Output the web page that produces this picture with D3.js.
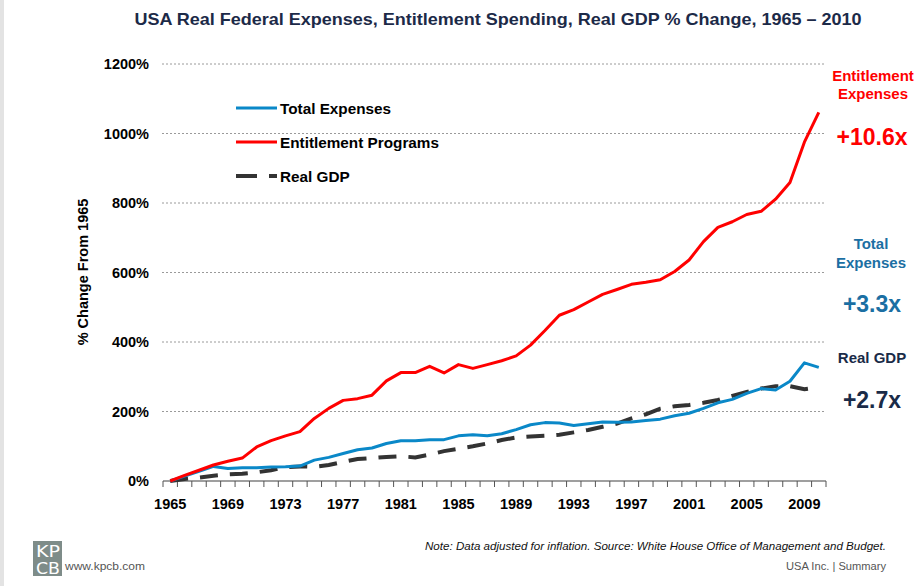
<!DOCTYPE html>
<html>
<head>
<meta charset="utf-8">
<script src="https://cdn.jsdelivr.net/npm/d3@7"></script>
<style>
  html, body { margin: 0; padding: 0; background: #fff; }
  svg { display: block; font-family: "Liberation Sans", Arial, sans-serif; }
</style>
</head>
<body>
<svg id="chart" width="917" height="586"></svg>
<script>
// ---- data ----
const years = d3.range(1965, 2011);
const totalExpenses = [0, 14, 28, 42, 36, 38, 38, 40, 41, 43, 60, 68, 79, 90, 95, 108, 116, 116, 119, 119,
  130, 133, 130, 136, 148, 162, 168, 167, 160, 165, 170, 169, 170, 174, 178, 188, 195, 209, 225, 235,
  252, 266, 262, 287, 340, 327];
const entitlementPrograms = [0, 16, 31, 46, 57, 66, 98, 116, 130, 142, 180, 209, 232, 237, 247, 288, 312, 312, 330, 311,
  335, 324, 335, 346, 360, 391, 433, 477, 493, 515, 537, 551, 566, 572, 579, 603, 636, 689, 730, 746,
  767, 776, 811, 859, 975, 1061];
const realGDP = [0, 6, 10, 15, 19, 21, 25, 31, 40, 42, 41, 46, 55, 63, 66, 69, 71, 68, 76, 86,
  93, 100, 108, 118, 125, 128, 130, 133, 140, 147, 156, 165, 180, 192, 208, 215, 219, 225, 233, 245,
  256, 266, 273, 273, 264, 270];
const yTicks = [0, 200, 400, 600, 800, 1000, 1200];
const xTickLabels = [1965, 1969, 1973, 1977, 1981, 1985, 1989, 1993, 1997, 2001, 2005, 2009];
const seriesNames = ["Total Expenses", "Entitlement Programs", "Real GDP"];

const svg = d3.select("#chart");

// left gray strip
svg.append("rect").attr("x", 0).attr("y", 0).attr("width", 4).attr("height", 586).attr("fill", "#e3e3e3");

const x = d3.scaleBand().domain(years).range([163, 826]).padding(0);
const xc = yr => x(yr) + x.bandwidth() / 2;
const y = d3.scaleLinear().domain([0, 1200]).range([481, 64]);

// title
svg.append("text").attr("x", 498).attr("y", 25).attr("text-anchor", "middle")
  .attr("font-size", 16.5).attr("font-weight", "bold").attr("fill", "#1c2a48")
  .attr("textLength", 727).attr("lengthAdjust", "spacingAndGlyphs")
  .text("USA Real Federal Expenses, Entitlement Spending, Real GDP % Change, 1965 \u2013 2010");

// gridlines
svg.append("g").selectAll("line").data(yTicks.filter(d => d > 0)).join("line")
  .attr("x1", 162).attr("x2", 826).attr("y1", d => y(d)).attr("y2", d => y(d))
  .attr("stroke", "#9a9a9a").attr("stroke-width", 1).attr("stroke-dasharray", "2,2");

// y axis labels
const yAxis = d3.axisLeft(y).tickValues(yTicks).tickSize(0).tickPadding(0).tickFormat(d => d + "%");
const gy = svg.append("g").attr("transform", "translate(149,0)").call(yAxis);
gy.select(".domain").remove();
gy.selectAll("text").attr("font-size", 14.5).attr("font-weight", "bold").attr("fill", "#000")
  .attr("font-family", "Liberation Sans, Arial, sans-serif");

// y axis title
svg.append("text").attr("transform", "translate(88,272) rotate(-90)").attr("text-anchor", "middle")
  .attr("font-size", 14.5).attr("font-weight", "bold").attr("fill", "#000")
  .text("% Change From 1965");

// x axis: baseline + ticks at band boundaries
const xAxisG = svg.append("g");
xAxisG.append("line").attr("x1", 163).attr("x2", 826).attr("y1", y(0)).attr("y2", y(0))
  .attr("stroke", "#7f7f7f").attr("stroke-width", 1.5);
const boundaries = years.map(d => x(d)).concat([x(2010) + x.bandwidth()]);
xAxisG.selectAll("line.tick").data(boundaries).join("line").attr("class", "tick")
  .attr("x1", d => d).attr("x2", d => d).attr("y1", y(0)).attr("y2", y(0) + 6)
  .attr("stroke", "#555").attr("stroke-width", 1);
xAxisG.selectAll("text").data(xTickLabels).join("text")
  .attr("x", d => xc(d)).attr("y", 509).attr("text-anchor", "middle")
  .attr("font-size", 14.5).attr("font-weight", "bold").attr("fill", "#000").text(d => d);

// lines
const line = d3.line().x((d, i) => xc(years[i])).y(d => y(d));
svg.append("path").datum(realGDP).attr("d", line).attr("fill", "none")
  .attr("stroke", "#333333").attr("stroke-width", 4).attr("stroke-dasharray", "18,12");
svg.append("path").datum(totalExpenses).attr("d", line).attr("fill", "none")
  .attr("stroke", "#0a88c8").attr("stroke-width", 3).attr("stroke-linejoin", "round");
svg.append("path").datum(entitlementPrograms).attr("d", line).attr("fill", "none")
  .attr("stroke", "#ff0000").attr("stroke-width", 3).attr("stroke-linejoin", "round");

// legend
const legend = svg.append("g");
const legendItems = [
  { name: seriesNames[0], color: "#0a88c8", dash: null, w: 3, yy: 108 },
  { name: seriesNames[1], color: "#ff0000", dash: null, w: 3, yy: 142 },
  { name: seriesNames[2], color: "#333333", dash: "21,12", w: 4, yy: 176 }
];
legendItems.forEach(it => {
  legend.append("line").attr("x1", 236).attr("x2", 277).attr("y1", it.yy).attr("y2", it.yy)
    .attr("stroke", it.color).attr("stroke-width", it.w).attr("stroke-dasharray", it.dash);
  legend.append("text").attr("x", 280).attr("y", it.yy + 5.5).attr("font-size", 15.3)
    .attr("font-weight", "bold").attr("fill", "#000").text(it.name);
});

// right annotations
const ann = svg.append("g").attr("text-anchor", "middle").attr("font-weight", "bold");
ann.append("text").attr("x", 873).attr("y", 81).attr("font-size", 15).attr("fill", "#ff0000").text("Entitlement");
ann.append("text").attr("x", 873).attr("y", 99).attr("font-size", 15).attr("fill", "#ff0000").text("Expenses");
ann.append("text").attr("x", 872).attr("y", 145).attr("font-size", 23).attr("fill", "#ff0000").text("+10.6x");
ann.append("text").attr("x", 871).attr("y", 249).attr("font-size", 15).attr("fill", "#1b6fa3").text("Total");
ann.append("text").attr("x", 871).attr("y", 268).attr("font-size", 15).attr("fill", "#1b6fa3").text("Expenses");
ann.append("text").attr("x", 872).attr("y", 312).attr("font-size", 23).attr("fill", "#1b6fa3").text("+3.3x");
ann.append("text").attr("x", 872).attr("y", 363).attr("font-size", 15).attr("fill", "#1a2b48").text("Real GDP");
ann.append("text").attr("x", 872).attr("y", 408).attr("font-size", 23).attr("fill", "#1a2b48").text("+2.7x");

// footer
svg.append("text").attr("x", 886).attr("y", 550).attr("text-anchor", "end")
  .attr("font-size", 11).attr("font-style", "italic").attr("fill", "#111")
  .attr("textLength", 461).attr("lengthAdjust", "spacingAndGlyphs")
  .text("Note: Data adjusted for inflation. Source: White House Office of Management and Budget.");
svg.append("text").attr("x", 886).attr("y", 570).attr("text-anchor", "end")
  .attr("font-size", 11).attr("fill", "#555")
  .attr("textLength", 100).attr("lengthAdjust", "spacingAndGlyphs")
  .text("USA Inc. | Summary");
svg.append("rect").attr("x", 33).attr("y", 541).attr("width", 29).attr("height", 35).attr("fill", "#7e8c89");
svg.append("text").attr("x", 36).attr("y", 557).attr("font-size", 15).attr("fill", "#fff")
  .attr("font-family", "DejaVu Sans, sans-serif").attr("font-weight", "normal")
  .attr("textLength", 24).attr("lengthAdjust", "spacingAndGlyphs").text("KP");
svg.append("text").attr("x", 36).attr("y", 574).attr("font-size", 15).attr("fill", "#fff")
  .attr("font-family", "DejaVu Sans, sans-serif")
  .attr("textLength", 24).attr("lengthAdjust", "spacingAndGlyphs").text("CB");
svg.append("text").attr("x", 65).attr("y", 570).attr("font-size", 11).attr("fill", "#555")
  .attr("textLength", 80).attr("lengthAdjust", "spacingAndGlyphs").text("www.kpcb.com");
</script>
</body>
</html>
